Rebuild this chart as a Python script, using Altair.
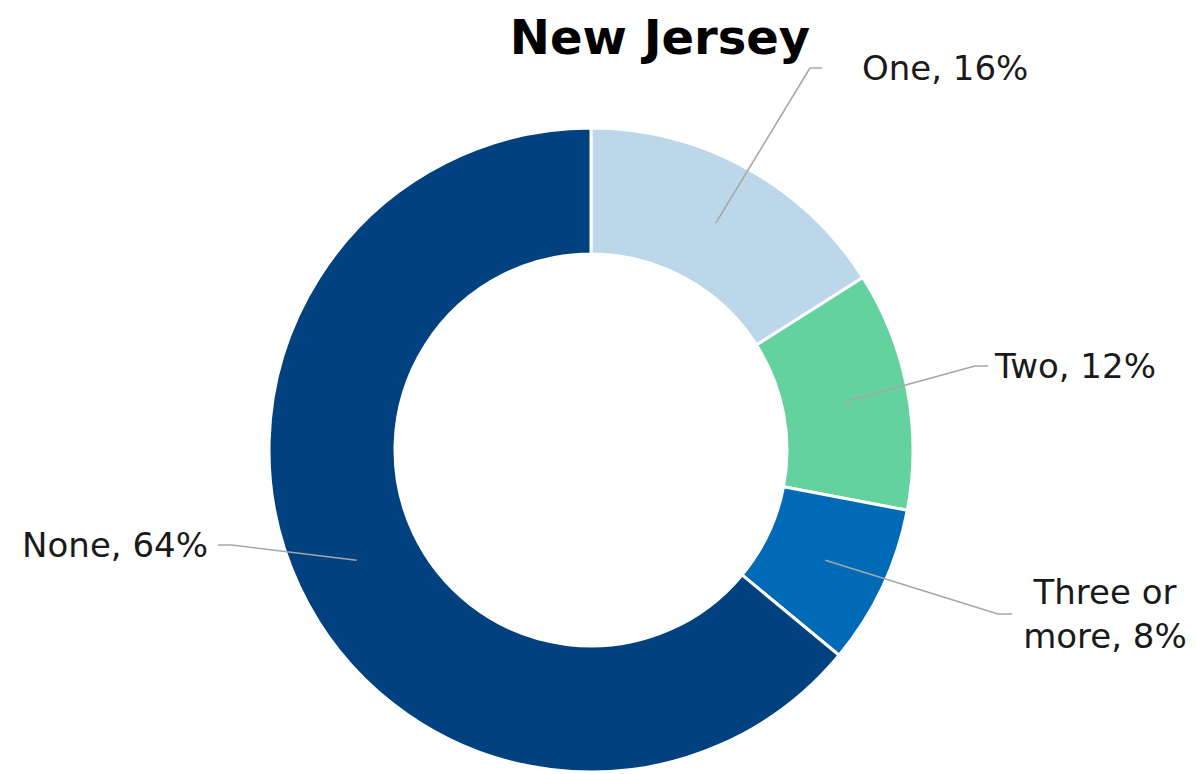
import math
import altair as alt
import pandas as pd

# ---- data ----
categories = ["One", "Two", "Three or more", "None"]
shares = [16, 12, 8, 64]
labels = ["One, 16%", "Two, 12%", "Three or\nmore, 8%", "None, 64%"]
colors = ["#BDD7EA", "#63D29E", "#006AB7", "#02417F"]
title_text = "New Jersey"

# ---- layout constants (chart pixel coords; plot origin at page (8, 16)) ----
W, H = 1180, 758
CX, CY = 583, 434
R_OUT, R_IN = 322, 196
R_MID = (R_OUT + R_IN) / 2
# elbow point, end of horizontal tick, text anchor, alignment
label_layout = {
    "One": dict(elbow=(802, 52), end=(814, 52), text=(854, 54), align="left"),
    "Two": dict(elbow=(967, 350), end=(980, 350), text=(987, 352), align="left"),
    "Three or more": dict(elbow=(990, 598), end=(1004, 598), text=(1097, 578), align="center"),
    "None": dict(elbow=(224, 529), end=(210, 529), text=(200, 531), align="right"),
}

df = pd.DataFrame({"category": categories, "share": shares, "order": range(len(categories)),
                   "label": labels})

arc = alt.Chart(df).mark_arc(
    outerRadius=R_OUT, innerRadius=R_IN, stroke="white", strokeWidth=3
).encode(
    theta=alt.Theta("share:Q", stack=True),
    order=alt.Order("order:Q"),
    color=alt.Color("category:N", scale=alt.Scale(domain=categories, range=colors), legend=None),
    x=alt.value(CX), y=alt.value(CY),
)

# leader segments computed from the mid-angle of each slice
segs = []
texts = []
total = sum(shares)
cum = 0
for cat, s, lab in zip(categories, shares, labels):
    mid = (cum + s / 2) / total * 2 * math.pi
    cum += s
    sx = CX + R_MID * math.sin(mid)
    sy = CY - R_MID * math.cos(mid)
    L = label_layout[cat]
    segs.append(dict(x=sx, y=sy, x2=L["elbow"][0], y2=L["elbow"][1]))
    segs.append(dict(x=L["elbow"][0], y=L["elbow"][1], x2=L["end"][0], y2=L["end"][1]))
    texts.append(dict(x=L["text"][0], y=L["text"][1], label=lab, align=L["align"]))

seg_df = pd.DataFrame(segs)
txt_df = pd.DataFrame(texts)

leaders = alt.Chart(seg_df).mark_rule(color="#A6A6A6", strokeWidth=1.5).encode(
    x=alt.X("x:Q", scale=None), y=alt.Y("y:Q", scale=None),
    x2="x2:Q", y2="y2:Q",
)

FONT = "DejaVu Sans"
text_layers = []
for al in ["left", "center", "right"]:
    sub = txt_df[txt_df["align"] == al]
    if len(sub) == 0:
        continue
    text_layers.append(
        alt.Chart(sub).mark_text(
            align=al, baseline="middle", font=FONT, fontSize=34, color="#1a1a1a",
            lineBreak="\n", lineHeight=44,
        ).encode(
            x=alt.X("x:Q", scale=None), y=alt.Y("y:Q", scale=None), text="label:N"
        )
    )

title = alt.Chart(pd.DataFrame({"t": [title_text]})).mark_text(
    align="center", baseline="alphabetic", font=FONT, fontSize=48, fontWeight="bold", color="black"
).encode(x=alt.value(652), y=alt.value(38), text="t:N")

chart = alt.layer(arc, leaders, *text_layers, title).properties(
    width=W, height=H, autosize=alt.AutoSizeParams(type="none"),
    padding={"top": 8, "left": 0, "right": 0, "bottom": 0}
).configure_view(stroke=None)

chart.save("out.html", embed_options={"renderer": "svg", "actions": False})
